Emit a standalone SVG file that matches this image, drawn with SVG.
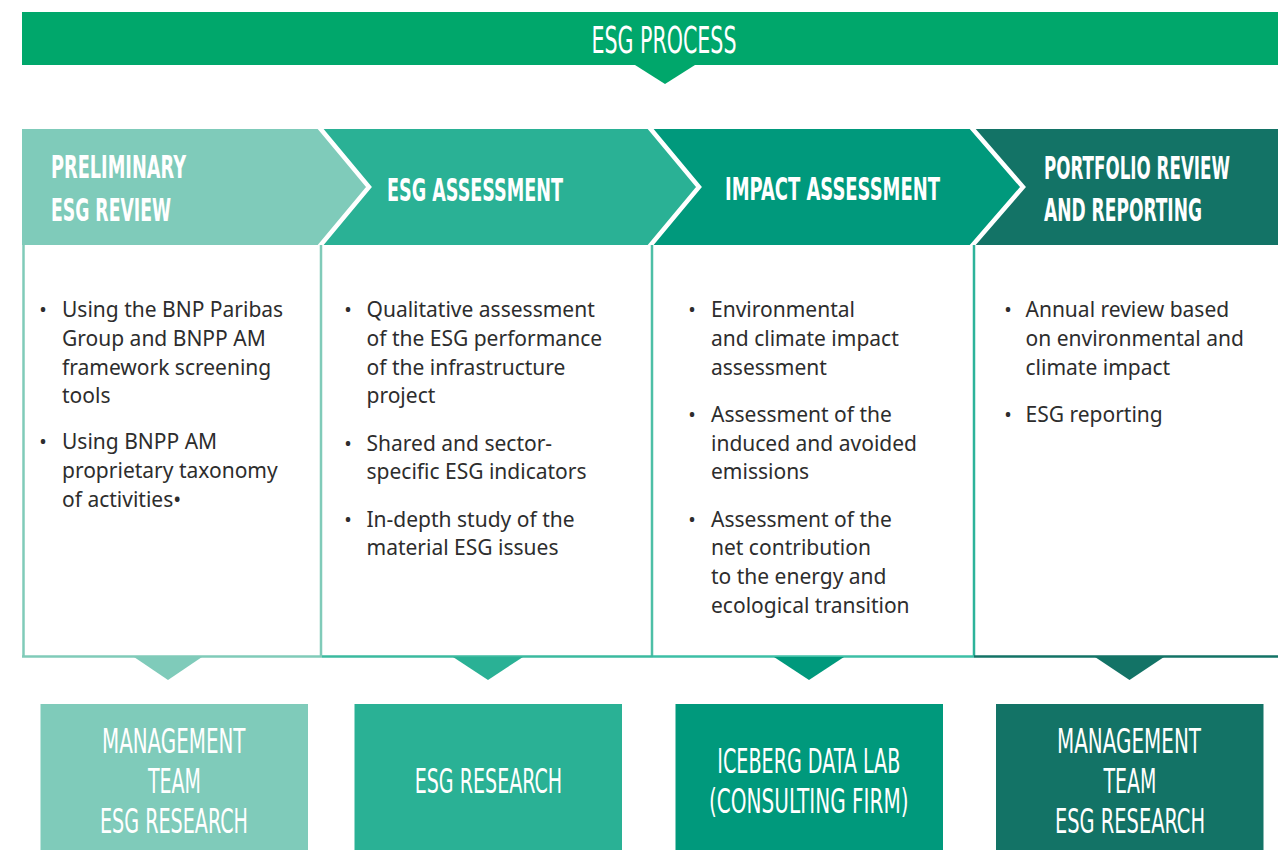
<svg xmlns="http://www.w3.org/2000/svg" width="1278" height="850" viewBox="0 0 1278 850">
<style>
.hd{font-family:"Liberation Sans Narrow","DejaVu Sans Condensed","Liberation Sans",sans-serif;font-weight:bold;font-size:32px;fill:#fff}
.bx{font-family:"Liberation Sans Narrow","DejaVu Sans Condensed","Liberation Sans",sans-serif;font-weight:normal;font-size:33px;fill:#fff}
.ttl{font-family:"Liberation Sans Narrow","DejaVu Sans Condensed","Liberation Sans",sans-serif;font-weight:normal;font-size:37px;fill:#fff}
.body{font-family:"Noto Sans","Open Sans",sans-serif;font-size:21px;fill:#2d2d2d}
.bul{font-family:"Noto Sans","Open Sans",sans-serif;font-size:20px;fill:#2d2d2d;text-anchor:middle}
.sep{fill:none;stroke:#fff;stroke-width:4.5}
.c1{fill:#7FCBBA}.c2{fill:#2AB195}.c3{fill:#00997C}.c4{fill:#137366}
</style>
<rect width="1278" height="850" fill="#fff"/>

<g id="banner">
<rect x="22" y="12" width="1256" height="53" fill="#00A76B"/>
<text class="ttl" x="591.5" y="52.5" textLength="145" lengthAdjust="spacingAndGlyphs">ESG PROCESS</text>
</g>

<g id="step-preliminary">
<polygon class="c1" points="22,129 320,129 370,187 320,245 22,245"/>
<text class="hd" x="51" y="178" textLength="135" lengthAdjust="spacingAndGlyphs">PRELIMINARY</text>
<text class="hd" x="51" y="221" textLength="120" lengthAdjust="spacingAndGlyphs">ESG REVIEW</text>
</g>
<g id="step-esg-assessment">
<polygon class="c2" points="320,129 650,129 700,187 650,245 320,245 370,187"/>
<text class="hd" x="387" y="201" textLength="176" lengthAdjust="spacingAndGlyphs">ESG ASSESSMENT</text>
</g>
<g id="step-impact">
<polygon class="c3" points="650,129 972,129 1024,187 972,245 650,245 700,187"/>
<text class="hd" x="725" y="200" textLength="215" lengthAdjust="spacingAndGlyphs">IMPACT ASSESSMENT</text>
</g>
<g id="step-portfolio">
<polygon class="c4" points="972,129 1278,129 1278,245 972,245 1024,187"/>
<text class="hd" x="1044" y="179" textLength="186" lengthAdjust="spacingAndGlyphs">PORTFOLIO REVIEW</text>
<text class="hd" x="1044" y="221" textLength="158" lengthAdjust="spacingAndGlyphs">AND REPORTING</text>
</g>
<g id="separators">
<polyline class="sep" points="319,127 369,187 319,247"/>
<polyline class="sep" points="649,127 699,187 649,247"/>
<polyline class="sep" points="971,127 1023,187 971,247"/>
</g>

<g id="col-preliminary">
<line x1="23.5" y1="245" x2="23.5" y2="657" stroke="#80CBB9" stroke-width="2.5"/>
<line x1="321" y1="245" x2="321" y2="657" stroke="#80CBB9" stroke-width="2.5"/>
<line x1="22" y1="656.5" x2="322" y2="656.5" stroke="#80CBB9" stroke-width="2.5"/>
<text class="bul" x="43" y="317">•</text>
<text class="body" x="62" y="317">Using the BNP Paribas</text>
<text class="body" x="62" y="346">Group and BNPP AM</text>
<text class="body" x="62" y="375">framework screening</text>
<text class="body" x="62" y="403">tools</text>
<text class="bul" x="43" y="449">•</text>
<text class="body" x="62" y="449">Using BNPP AM</text>
<text class="body" x="62" y="478">proprietary taxonomy</text>
<text class="body" x="62" y="507">of activities•</text>
</g>

<g id="col-esg-assessment">
<line x1="652" y1="245" x2="652" y2="657" stroke="#4DBFA6" stroke-width="2.5"/>
<line x1="322" y1="656.5" x2="653" y2="656.5" stroke="#3BBA9F" stroke-width="2.5"/>
<text class="bul" x="348" y="317">•</text>
<text class="body" x="366.5" y="317">Qualitative assessment</text>
<text class="body" x="366.5" y="346">of the ESG performance</text>
<text class="body" x="366.5" y="374.7">of the infrastructure</text>
<text class="body" x="366.5" y="403">project</text>
<text class="bul" x="348" y="450.7">•</text>
<text class="body" x="366.5" y="450.7">Shared and sector-</text>
<text class="body" x="366.5" y="479">specific ESG indicators</text>
<text class="bul" x="348" y="526.7">•</text>
<text class="body" x="366.5" y="526.7">In-depth study of the</text>
<text class="body" x="366.5" y="555">material ESG issues</text>
</g>

<g id="col-impact">
<line x1="974" y1="245" x2="974" y2="657" stroke="#2DB39A" stroke-width="2.5"/>
<line x1="653" y1="656.5" x2="974" y2="656.5" stroke="#3DBFA6" stroke-width="2.5"/>
<text class="bul" x="692" y="317">•</text>
<text class="body" x="711" y="317">Environmental</text>
<text class="body" x="711" y="346">and climate impact</text>
<text class="body" x="711" y="374.7">assessment</text>
<text class="bul" x="692" y="421.7">•</text>
<text class="body" x="711" y="421.7">Assessment of the</text>
<text class="body" x="711" y="450.7">induced and avoided</text>
<text class="body" x="711" y="479">emissions</text>
<text class="bul" x="692" y="526.7">•</text>
<text class="body" x="711" y="526.7">Assessment of the</text>
<text class="body" x="711" y="555">net contribution</text>
<text class="body" x="711" y="584">to the energy and</text>
<text class="body" x="711" y="612.7">ecological transition</text>
</g>

<g id="col-portfolio">
<line x1="974" y1="656.5" x2="1278" y2="656.5" stroke="#137366" stroke-width="2.5"/>
<text class="bul" x="1008" y="317">•</text>
<text class="body" x="1025.5" y="317">Annual review based</text>
<text class="body" x="1025.5" y="346">on environmental and</text>
<text class="body" x="1025.5" y="374.7">climate impact</text>
<text class="bul" x="1008" y="421.7">•</text>
<text class="body" x="1025.5" y="421.7">ESG reporting</text>
</g>

<g id="connectors">
<polygon class="c1" points="134,657 202,657 168,680"/>
<polygon class="c2" points="453,657 523,657 488,680"/>
<polygon class="c3" points="774,657 844,657 809,680"/>
<polygon class="c4" points="1095,657 1164,657 1129.5,680"/>
<polygon fill="#00A76B" points="635,65 695,65 665,84"/>
</g>

<g id="box-management-1">
<rect class="c1" x="40.5" y="704" width="267.5" height="146"/>
<text class="bx" x="102" y="752.7" textLength="143.5" lengthAdjust="spacingAndGlyphs">MANAGEMENT</text>
<text class="bx" x="148" y="792.7" textLength="53" lengthAdjust="spacingAndGlyphs">TEAM</text>
<text class="bx" x="100" y="832.7" textLength="148" lengthAdjust="spacingAndGlyphs">ESG RESEARCH</text>
</g>
<g id="box-esg-research">
<rect class="c2" x="354.5" y="704" width="267.5" height="146"/>
<text class="bx" x="414.7" y="792.7" textLength="147.5" lengthAdjust="spacingAndGlyphs">ESG RESEARCH</text>
</g>
<g id="box-iceberg">
<rect class="c3" x="675.5" y="704" width="267.5" height="146"/>
<text class="bx" x="717.3" y="772.7" textLength="183" lengthAdjust="spacingAndGlyphs">ICEBERG DATA LAB</text>
<text class="bx" x="709" y="812.7" textLength="199.5" lengthAdjust="spacingAndGlyphs">(CONSULTING FIRM)</text>
</g>
<g id="box-management-2">
<rect class="c4" x="996" y="704" width="267.5" height="146"/>
<text class="bx" x="1057" y="752.7" textLength="144" lengthAdjust="spacingAndGlyphs">MANAGEMENT</text>
<text class="bx" x="1103.5" y="792.7" textLength="53" lengthAdjust="spacingAndGlyphs">TEAM</text>
<text class="bx" x="1055" y="832.7" textLength="150" lengthAdjust="spacingAndGlyphs">ESG RESEARCH</text>
</g>
</svg>
